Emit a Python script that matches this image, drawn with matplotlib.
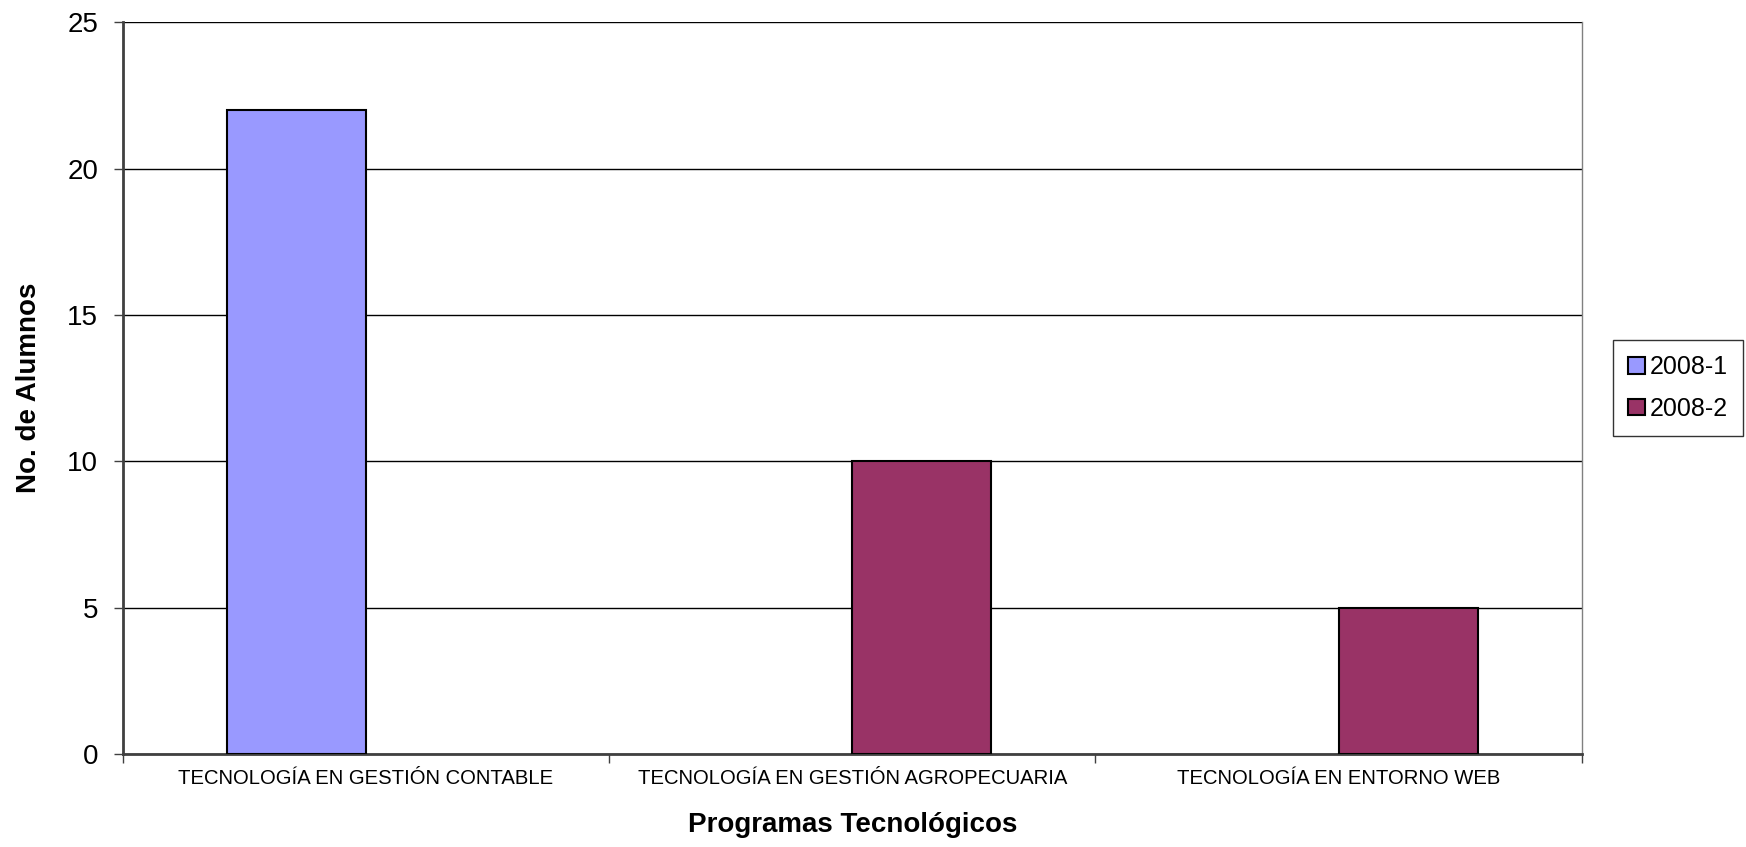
import matplotlib
matplotlib.use("Agg")
import matplotlib.pyplot as plt
from matplotlib.patches import Patch
import numpy as np

categories = ["TECNOLOGÍA EN GESTIÓN CONTABLE", "TECNOLOGÍA EN GESTIÓN AGROPECUARIA", "TECNOLOGÍA EN ENTORNO WEB"]
series_names = ["2008-1", "2008-2"]
values_2008_1 = [22, 0, 0]
values_2008_2 = [0, 10, 5]
y_ticks = [0, 5, 10, 15, 20, 25]
colors = ["#9999FF", "#993366"]

plt.rcParams['font.family'] = ['Liberation Sans', 'DejaVu Sans']

fig = plt.figure(figsize=(17.46, 8.47), dpi=100)
ax = fig.add_axes([0.0702, 0.1098, 0.906 - 0.0702, 0.9737 - 0.1098])

x = np.arange(len(categories))
w = 0.286


def lw(vals):
    return [1.5 if v else 0 for v in vals]


ax.bar(x - w / 2, values_2008_1, w, color=colors[0], edgecolor="black", linewidth=lw(values_2008_1), zorder=3)
ax.bar(x + w / 2, values_2008_2, w, color=colors[1], edgecolor="black", linewidth=lw(values_2008_2), zorder=3)

ax.set_xlim(-0.5, len(categories) - 0.5)
ax.set_ylim(0, 25)
ax.set_yticks(y_ticks)
ax.set_yticklabels([str(v) for v in y_ticks], fontsize=20)
ax.yaxis.grid(True, color="black", linewidth=1.0, zorder=0)
ax.set_axisbelow(True)

ax.set_xticks(np.arange(len(categories) + 1) - 0.5, minor=False)
ax.set_xticklabels([])
ax.set_xticks(x, minor=True)
ax.set_xticklabels(categories, minor=True, fontsize=14.6)
ax.tick_params(axis='x', which='minor', length=0, pad=11)
ax.tick_params(axis='x', which='major', length=6.5, width=1, color="#404040")
ax.tick_params(axis='y', length=6.5, width=1, color="#404040", pad=11)

for s in ["left", "bottom"]:
    ax.spines[s].set_color("#404040")
    ax.spines[s].set_linewidth(2)
ax.spines["right"].set_color("#808080")
ax.spines["right"].set_linewidth(1)
ax.spines["top"].set_visible(False)

ax.set_xlabel("Programas Tecnológicos", fontsize=20, fontweight="bold", labelpad=17)
ax.set_ylabel("No. de Alumnos", fontsize=20, fontweight="bold", labelpad=18)

handles = [Patch(facecolor=c, edgecolor="black", linewidth=1.5) for c in colors]
leg = ax.legend(handles, series_names, loc="center left", bbox_to_anchor=(1.013, 0.50), fontsize=18,
                frameon=True, fancybox=False, edgecolor="black", handlelength=0.65, handleheight=0.65,
                handletextpad=0.2, borderpad=0.6, labelspacing=0.7)
leg.get_frame().set_linewidth(1)

fig.savefig("out.png", dpi=100)
